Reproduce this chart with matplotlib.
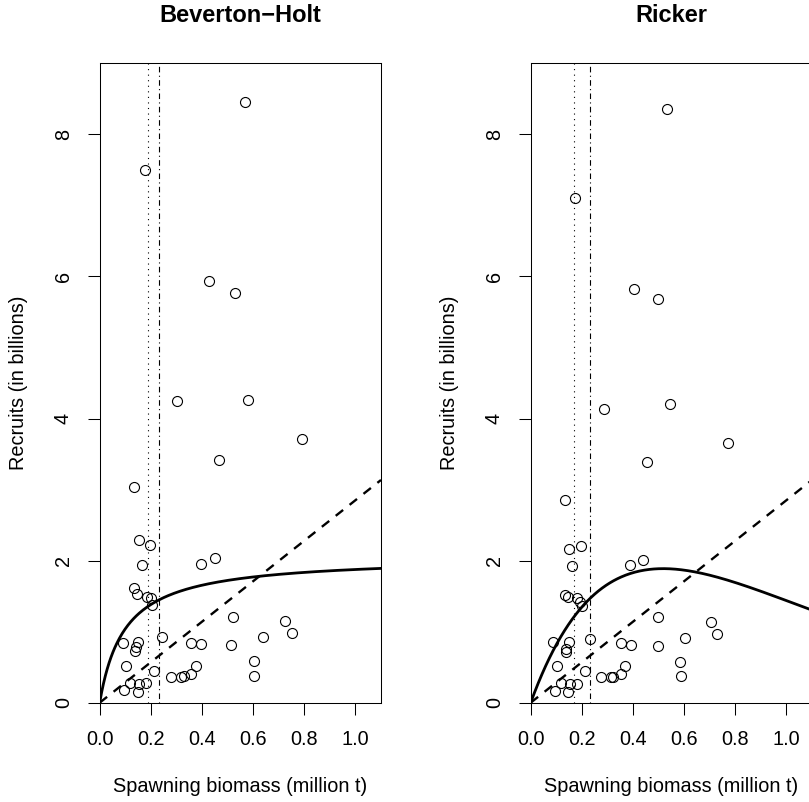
import numpy as np
import matplotlib.pyplot as plt

plt.rcParams['font.family'] = 'Liberation Sans'
plt.rcParams['font.size'] = 14.3

# spawning biomass (million t) and recruits (billions), Beverton-Holt panel
bh_ssb = [0.791, 0.467, 0.135, 0.155, 0.198, 0.165, 0.396, 0.450, 0.135, 0.147,
          0.186, 0.200, 0.204, 0.520, 0.725, 0.751, 0.637, 0.242, 0.090, 0.148,
          0.141, 0.138, 0.357, 0.398, 0.513, 0.604, 0.604, 0.103, 0.213, 0.377,
          0.358, 0.329, 0.319, 0.279, 0.120, 0.155, 0.183, 0.095, 0.150,
          0.569, 0.176, 0.426, 0.530, 0.302, 0.578]
bh_rec = [3.71, 3.42, 3.04, 2.29, 2.22, 1.94, 1.95, 2.03, 1.61, 1.53,
          1.49, 1.48, 1.38, 1.21, 1.15, 0.98, 0.92, 0.92, 0.84, 0.86,
          0.79, 0.73, 0.84, 0.82, 0.81, 0.58, 0.38, 0.51, 0.45, 0.52,
          0.41, 0.37, 0.36, 0.36, 0.28, 0.27, 0.28, 0.18, 0.15,
          8.46, 7.50, 5.94, 5.77, 4.24, 4.26]

# Ricker panel
rk_ssb = [0.771, 0.456, 0.134, 0.151, 0.195, 0.163, 0.389, 0.439, 0.133, 0.146,
          0.182, 0.193, 0.202, 0.497, 0.706, 0.729, 0.604, 0.233, 0.088, 0.148,
          0.139, 0.138, 0.352, 0.391, 0.499, 0.583, 0.586, 0.103, 0.211, 0.368,
          0.352, 0.321, 0.314, 0.275, 0.118, 0.152, 0.180, 0.095, 0.147,
          0.534, 0.173, 0.402, 0.498, 0.286, 0.544]
rk_rec = [3.66, 3.39, 2.86, 2.16, 2.20, 1.92, 1.94, 2.01, 1.52, 1.49,
          1.47, 1.42, 1.36, 1.20, 1.14, 0.96, 0.91, 0.89, 0.85, 0.85,
          0.75, 0.72, 0.84, 0.81, 0.80, 0.57, 0.37, 0.51, 0.44, 0.51,
          0.41, 0.36, 0.36, 0.36, 0.28, 0.27, 0.27, 0.17, 0.15,
          8.36, 7.10, 5.83, 5.68, 4.14, 4.21]

# fitted stock-recruit parameters
bh_a, bh_b = 21.0, 10.2
rk_a, rk_b = 9.9, 1.93
repl_slope = 2.85
bh_ref = (0.19, 0.233)   # dotted, dash-dot
rk_ref = (0.17, 0.233)

W, H = 809, 802
fig = plt.figure(figsize=(W / 100, H / 100), dpi=100)

def panel(left_px, title, ssb, rec, curve, ref):
    ax = fig.add_axes([left_px / W, (H - 702.7) / H, 281.3 / W, 639.4 / H])
    s = np.linspace(0, 1.1, 300)
    ax.plot(ssb, rec, 'o', mfc='none', mec='black', ms=7.2, mew=0.8)
    ax.plot(s, curve(s), 'k-', lw=2.0)
    ax.plot(s, repl_slope * s, 'k', lw=1.7, ls=(0, (4, 3.5)))
    ax.axvline(ref[0], color='k', lw=0.8, ls=(0, (1, 4)))
    ax.axvline(ref[1], color='k', lw=0.8, ls=(0, (1, 3, 5, 3)))
    ax.set_xlim(0, 1.1)
    ax.set_ylim(0, 9)
    ax.set_xticks([0, 0.2, 0.4, 0.6, 0.8, 1.0])
    ax.set_xticklabels(['0.0', '0.2', '0.4', '0.6', '0.8', '1.0'])
    ax.set_yticks([0, 2, 4, 6, 8])
    ax.set_yticklabels(['0', '2', '4', '6', '8'], rotation=90, va='center')
    ax.tick_params(length=8.3, width=0.75, pad=11)
    for sp in ax.spines.values():
        sp.set_linewidth(0.75)
    cx = (left_px + 140.6) / W
    fig.text(cx, 1 - 15 / H, title, ha='center', va='center',
             fontsize=17, fontweight='bold')
    fig.text(cx, 1 - 786.7 / H, 'Spawning biomass (million t)',
             ha='center', va='center')
    fig.text((left_px - 81.4) / W, 1 - 383 / H, 'Recruits (in billions)',
             ha='center', va='center', rotation=90)
    return ax

panel(99.7, 'Beverton\u2212Holt', bh_ssb, bh_rec,
      lambda s: bh_a * s / (1 + bh_b * s), bh_ref)
panel(530.7, 'Ricker', rk_ssb, rk_rec,
      lambda s: rk_a * s * np.exp(-rk_b * s), rk_ref)

fig.savefig('out.png', dpi=100)
